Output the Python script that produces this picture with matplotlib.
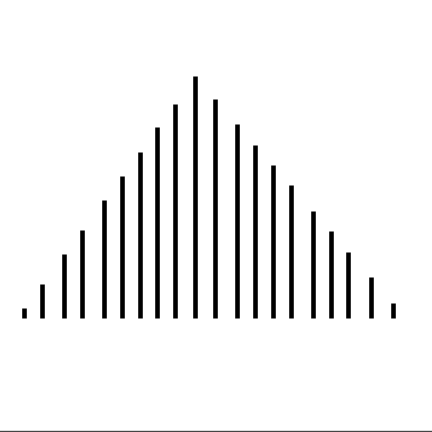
import matplotlib
matplotlib.use("Agg")
import matplotlib.pyplot as plt

# x positions and heights of the stems (pixel units)
x_pos = [24, 42, 64, 82, 104, 122, 140, 157, 175, 195,
         215, 237, 255, 273, 291, 313, 331, 348, 371, 393]
heights = [10, 34, 64, 88, 118, 142, 166, 191, 214, 242,
           219, 194, 173, 153, 133, 107, 87, 66, 41, 15]

BASE = 114

fig = plt.figure(figsize=(4.32, 4.32), dpi=100)
ax = fig.add_axes([0, 0, 1, 1])
ax.set_xlim(0, 432)
ax.set_ylim(0, 432)
ax.axis("off")

ax.vlines(x_pos, BASE, [BASE + h for h in heights], color="black", linewidth=3.3)
ax.axhline(1.5, color="#444444", linewidth=1.0)

fig.savefig("out.png", dpi=100)
